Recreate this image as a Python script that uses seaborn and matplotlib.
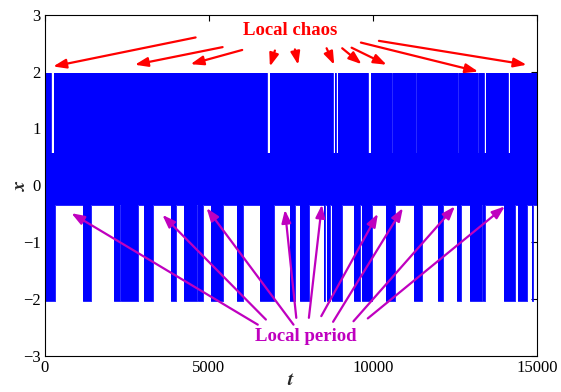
import numpy as np
import pandas as pd
import seaborn as sns
import matplotlib
matplotlib.use("Agg")
import matplotlib.pyplot as plt

# envelope levels of the signal x(t)
band_top = 1.98      # chaotic part, upper side
band_low = -0.34     # usual lower side
burst_low = -2.04    # lower side during the excursions
gap_top = 0.56       # upper side inside the short periodic windows

# time intervals where x drops down to about -2
burst_start = [0, 1160, 2100, 2330, 3020, 3860, 4240, 4670, 5060, 5870, 6550, 7470, 7780,
               8500, 8600, 8750, 9410, 9670, 10410, 11240, 11990, 12550, 12960, 13350,
               14000, 14430, 14840]
burst_end = [300, 1410, 2280, 2840, 3290, 3990, 4630, 4810, 5420, 6030, 6990, 7630, 8040,
             8550, 8680, 9060, 9610, 9970, 10660, 11490, 12140, 12680, 13320, 13420,
             14330, 14690, 14890]

# time intervals where x stays below about 0.56 (white strips at the top)
gap_start = [175, 6780, 8790, 8890, 9860, 10570, 11310, 12580, 13190, 13390, 14110]
gap_end = [275, 6850, 8840, 8940, 9940, 10620, 11360, 12640, 13240, 13440, 14170]

# annotation arrows: (t_tail, x_tail, t_head, x_head)
chaos_tail_t = [4595, 5418, 6016, 7013, 7623, 8589, 9065, 9351, 9635, 10184]
chaos_tail_x = [2.60, 2.43, 2.38, 2.37, 2.39, 2.41, 2.41, 2.42, 2.51, 2.54]
chaos_head_t = [253, 2744, 4442, 6860, 7723, 8821, 9656, 10418, 13211, 14687]
chaos_head_x = [2.09, 2.12, 2.13, 2.09, 2.12, 2.12, 2.13, 2.12, 2.00, 2.12]

period_tail_t = [6491, 6738, 7580, 7665, 8049, 8427, 8787, 9409, 9845]
period_tail_x = [-2.45, -2.36, -2.45, -2.33, -2.33, -2.30, -2.40, -2.39, -2.34]
period_head_t = [808, 3583, 4930, 7318, 8446, 10153, 10915, 12501, 14025]
period_head_x = [-0.49, -0.52, -0.40, -0.43, -0.34, -0.50, -0.40, -0.37, -0.37]

t_ticks = [0, 5000, 10000, 15000]
x_ticks = [-3, -2, -1, 0, 1, 2, 3]

# build step envelopes from the intervals
edges = sorted(set([0, 15000] + burst_start + burst_end + gap_start + gap_end))
upper, lower = [], []
for a, b in zip(edges[:-1], edges[1:]):
    m = 0.5 * (a + b)
    in_gap = any(s <= m < e for s, e in zip(gap_start, gap_end))
    in_burst = any(s <= m < e for s, e in zip(burst_start, burst_end))
    upper.append(gap_top if in_gap else band_top)
    lower.append(burst_low if in_burst else band_low)
upper.append(upper[-1])
lower.append(lower[-1])
env = pd.DataFrame({"t": edges, "upper": upper, "lower": lower})

sns.set_style("white")
plt.rcParams["font.family"] = ["Liberation Serif", "DejaVu Serif"]
plt.rcParams["mathtext.fontset"] = "stix"

fig, ax = plt.subplots(figsize=(5.61, 3.92), dpi=100)
fig.subplots_adjust(left=0.080, right=0.957, bottom=0.092, top=0.9625)

blue = "#0000ff"
ax.fill_between(env["t"], env["lower"], env["upper"], step="post", color=blue, lw=0)
sns.lineplot(data=env, x="t", y="upper", drawstyle="steps-post", color=blue, lw=0.6, ax=ax)
sns.lineplot(data=env, x="t", y="lower", drawstyle="steps-post", color=blue, lw=0.6, ax=ax)

red = "#ff0000"
mag = "#bf00bf"
for tt, xt, th, xh in zip(chaos_tail_t, chaos_tail_x, chaos_head_t, chaos_head_x):
    ax.annotate("", xy=(th, xh), xytext=(tt, xt),
                arrowprops=dict(arrowstyle="-|>,head_length=0.55,head_width=0.2",
                                color=red, lw=1.6, mutation_scale=14,
                                shrinkA=0, shrinkB=0))
for tt, xt, th, xh in zip(period_tail_t, period_tail_x, period_head_t, period_head_x):
    ax.annotate("", xy=(th, xh), xytext=(tt, xt),
                arrowprops=dict(arrowstyle="-|>,head_length=0.55,head_width=0.2",
                                color=mag, lw=1.6, mutation_scale=14,
                                shrinkA=0, shrinkB=0))

ax.text(7470, 2.72, "Local chaos", color=red, fontsize=13.5, fontweight="bold",
        ha="center", va="center")
ax.text(7958, -2.65, "Local period", color=mag, fontsize=13.5, fontweight="bold",
        ha="center", va="center")

ax.set_xlim(0, 15000)
ax.set_ylim(-3, 3)
ax.set_xticks(t_ticks)
ax.set_yticks(x_ticks)
ax.tick_params(direction="in", length=4, width=0.8, top=True, right=True,
               labelsize=12, colors="black", pad=3)
ax.set_xlabel("$\\boldsymbol{t}$", fontsize=14, labelpad=-3)
ax.set_ylabel("$\\boldsymbol{x}$", fontsize=14, labelpad=-4)
for s in ax.spines.values():
    s.set_visible(True)
    s.set_color("black")
    s.set_linewidth(0.8)

fig.savefig("out.png", dpi=100)
